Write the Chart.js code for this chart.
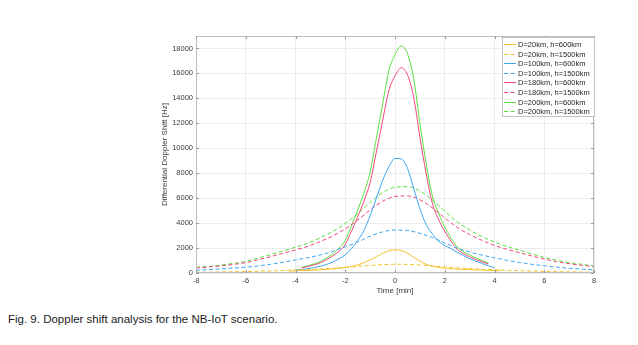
<!DOCTYPE html>
<html lang="en">
<head>
    <meta charset="UTF-8">
    <title>Doppler shift analysis</title>
    <script src="https://cdn.jsdelivr.net/npm/chart.js"></script>
    <style>
        body { margin: 0; background: #fff; width: 638px; height: 345px; position: relative; overflow: hidden; }
        #wrap { position: absolute; left: 0; top: 0; width: 638px; height: 300px; }
        #caption { position: absolute; left: 8px; top: 312px; margin: 0; font: 11.5px "Liberation Sans", Arial, sans-serif; line-height: 15px; color: #1a1a1a; }
    </style>
</head>
<body>
    <div id="wrap"><canvas id="dopplerChart" width="638" height="300"></canvas></div>
    <p id="caption">Fig. 9. Doppler shift analysis for the NB-IoT scenario.</p>
    <script>
        // time axis [min]
        const timeShort = [-4.25, -4, -3.75, -3.5, -3.25, -3, -2.75, -2.5, -2.25, -2, -1.75, -1.5, -1.25, -1, -0.75, -0.5, -0.25,
            0, 0.25, 0.5, 0.75, 1, 1.25, 1.5, 1.75, 2, 2.25, 2.5, 2.75, 3, 3.25, 3.5, 3.75, 4, 4.25];
        const timeLong = [-8, -7.5, -7, -6.5, -6, -5.5, -5, -4.5, -4, -3.5, -3, -2.5, -2, -1.5, -1, -0.5,
            0, 0.5, 1, 1.5, 2, 2.5, 3, 3.5, 4, 4.5, 5, 5.5, 6, 6.5, 7, 7.5, 8];

        // differential Doppler shift [Hz], h = 600 km (timeShort)
        const d20h600 = [150, 170, 190, 210, 230, 260, 290, 330, 380, 440, 520, 650, 820, 1050, 1300, 1580, 1780,
            1850, 1800, 1600, 1250, 950, 700, 540, 440, 380, 340, 310, 290, 270, 250, 230, 210, 190, 170];
        const d100h600 = [null, 230, 280, 340, 430, 540, 690, 880, 1150, 1450, 1950, 2600, 3400, 4600, 6000, 7400, 8500,
            9180, 9150, 8400, 6800, 5150, 3900, 3150, 2550, 2200, 1950, 1650, 1400, 1150, 950, 760, 580, 420, null];
        const d180h600 = [null, null, 400, 520, 650, 820, 1070, 1380, 1750, 2300, 3350, 4500, 5750, 7250, 9700, 12200, 14600,
            15800, 16450, 15900, 14100, 10900, 8000, 5600, 4300, 3350, 2550, 1900, 1550, 1300, 1080, 900, 720, null, null];
        const d200h600 = [null, null, 450, 580, 730, 920, 1200, 1550, 2000, 2600, 3800, 5050, 6400, 8100, 10800, 13500, 16200,
            17500, 18200, 17600, 15600, 12000, 8800, 6200, 4800, 3700, 2800, 2100, 1700, 1450, 1200, 1000, 800, null, null];

        // differential Doppler shift [Hz], h = 1500 km (timeLong)
        const d20h1500 = [55, 65, 78, 95, 115, 140, 170, 200, 235, 270, 320, 380, 450, 530, 610, 670,
            700, 690, 640, 570, 490, 410, 350, 300, 255, 220, 185, 155, 130, 110, 90, 75, 62];
        const d100h1500 = [220, 270, 330, 400, 470, 570, 700, 860, 1050, 1230, 1450, 1750, 2100, 2480, 2950, 3300,
            3440, 3410, 3180, 2850, 2400, 2000, 1680, 1430, 1220, 1020, 850, 700, 580, 470, 380, 310, 250];
        const d180h1500 = [400, 475, 570, 690, 830, 1070, 1310, 1580, 1850, 2140, 2530, 2970, 3550, 4240, 5050, 5750,
            6130, 6180, 5880, 5220, 4420, 3660, 3080, 2610, 2210, 1900, 1630, 1370, 1120, 910, 750, 625, 510];
        const d200h1500 = [450, 530, 640, 770, 930, 1200, 1470, 1770, 2070, 2400, 2830, 3330, 3980, 4750, 5660, 6440,
            6870, 6920, 6580, 5850, 4950, 4100, 3450, 2920, 2480, 2130, 1830, 1530, 1250, 1020, 840, 700, 570];

        const xTicks = [-8, -6, -4, -2, 0, 2, 4, 6, 8];
        const yTicks = [0, 2000, 4000, 6000, 8000, 10000, 12000, 14000, 16000, 18000];

        const YELLOW = '#f6c22c';
        const BLUE = '#3da6f0';
        const RED = '#f2457c';
        const GREEN = '#5ade3e';
        const DASH = [4, 2.5];
        const FONT = '"Liberation Sans", Arial, Helvetica, sans-serif';

        function points(times, values) {
            return times.map((t, i) => ({ x: t, y: values[i] })).filter(p => p.y !== null);
        }

        function series(label, times, values, color, dashed) {
            return {
                label: label,
                data: points(times, values),
                borderColor: color,
                backgroundColor: color,
                borderWidth: 1,
                borderDash: dashed ? DASH : [],
                pointRadius: 0,
                fill: false,
                cubicInterpolationMode: 'monotone'
            };
        }

        // MATLAB-like box with inward ticks
        const boxFrame = {
            id: 'boxFrame',
            afterDatasetsDraw(chart) {
                const { ctx, chartArea: a, scales } = chart;
                ctx.save();
                ctx.strokeStyle = '#bcbcbc';
                ctx.lineWidth = 1;
                ctx.strokeRect(a.left + 0.5, a.top + 0.5, a.right - a.left - 1, a.bottom - a.top - 1);
                ctx.strokeStyle = '#9a9a9a';
                ctx.beginPath();
                xTicks.forEach(v => {
                    const px = Math.round(scales.x.getPixelForValue(v)) + 0.5;
                    ctx.moveTo(px, a.bottom); ctx.lineTo(px, a.bottom - 3);
                    ctx.moveTo(px, a.top); ctx.lineTo(px, a.top + 3);
                });
                yTicks.forEach(v => {
                    const py = Math.round(scales.y.getPixelForValue(v)) + 0.5;
                    ctx.moveTo(a.left, py); ctx.lineTo(a.left + 3, py);
                    ctx.moveTo(a.right, py); ctx.lineTo(a.right - 3, py);
                });
                ctx.stroke();
                ctx.restore();
            }
        };

        // legend box in the upper right corner of the axes
        const insideLegend = {
            id: 'insideLegend',
            afterDraw(chart) {
                const ctx = chart.ctx;
                const x0 = 502, y0 = 37, w = 92, h = 79;
                ctx.save();
                ctx.fillStyle = '#ffffff';
                ctx.fillRect(x0, y0, w, h);
                ctx.strokeStyle = '#c4c4c4';
                ctx.lineWidth = 1;
                ctx.strokeRect(x0 + 0.5, y0 + 0.5, w, h);
                ctx.font = '7.5px ' + FONT;
                ctx.textBaseline = 'middle';
                chart.data.datasets.forEach((ds, i) => {
                    const y = Math.round(y0 + 7 + i * 9.6) + 0.5;
                    ctx.strokeStyle = ds.borderColor;
                    ctx.setLineDash(ds.borderDash);
                    ctx.beginPath();
                    ctx.moveTo(x0 + 2, y);
                    ctx.lineTo(x0 + 14, y);
                    ctx.stroke();
                    ctx.setLineDash([]);
                    ctx.fillStyle = '#262626';
                    ctx.fillText(ds.label, x0 + 16, y);
                });
                ctx.restore();
            }
        };

        function renderChart() {
            const ctx = document.getElementById('dopplerChart').getContext('2d');
            new Chart(ctx, {
                type: 'line',
                data: {
                    datasets: [
                        series('D=20km, h=600km', timeShort, d20h600, YELLOW, false),
                        series('D=20km, h=1500km', timeLong, d20h1500, YELLOW, true),
                        series('D=100km, h=600km', timeShort, d100h600, BLUE, false),
                        series('D=100km, h=1500km', timeLong, d100h1500, BLUE, true),
                        series('D=180km, h=600km', timeShort, d180h600, RED, false),
                        series('D=180km, h=1500km', timeLong, d180h1500, RED, true),
                        series('D=200km, h=600km', timeShort, d200h600, GREEN, false),
                        series('D=200km, h=1500km', timeLong, d200h1500, GREEN, true)
                    ]
                },
                options: {
                    responsive: false,
                    animation: false,
                    devicePixelRatio: 1,
                    layout: { padding: { left: 160, top: 36, right: 44, bottom: 4.5 } },
                    plugins: { legend: { display: false }, tooltip: { enabled: false } },
                    scales: {
                        x: {
                            type: 'linear',
                            min: -8,
                            max: 8,
                            afterFit: s => { s.height = 22.5; },
                            afterBuildTicks: s => { s.ticks = xTicks.map(v => ({ value: v })); },
                            grid: { color: '#ececec', drawTicks: false },
                            border: { display: false },
                            ticks: { padding: 3, color: '#3c3c3c', font: { size: 7.5, family: FONT } },
                            title: { display: true, text: 'Time [min]', color: '#3c3c3c', padding: 0, font: { size: 8, family: FONT } }
                        },
                        y: {
                            min: 0,
                            max: 19000,
                            afterFit: s => { s.width = 36; },
                            afterBuildTicks: s => { s.ticks = yTicks.map(v => ({ value: v })); },
                            grid: { color: '#ececec', drawTicks: false },
                            border: { display: false },
                            ticks: { padding: 3, color: '#3c3c3c', font: { size: 7.5, family: FONT }, callback: v => String(v) },
                            title: { display: true, text: 'Differential Doppler Shift [Hz]', color: '#3c3c3c', padding: 0, font: { size: 8, family: FONT } }
                        }
                    }
                },
                plugins: [boxFrame, insideLegend]
            });
        }

        renderChart();
    </script>
</body>
</html>
